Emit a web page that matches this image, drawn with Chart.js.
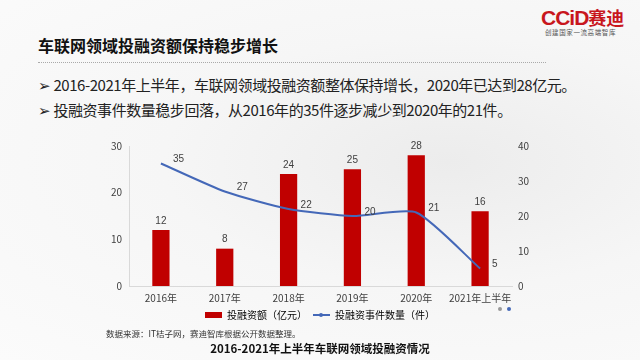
<!DOCTYPE html>
<html>
<head>
<meta charset="utf-8">
<script src="https://cdn.jsdelivr.net/npm/chart.js@4"></script>
<style>
    html, body { margin: 0; padding: 0; }
    body {
        width: 640px; height: 360px; overflow: hidden; position: relative;
        font-family: "Noto Sans CJK SC", sans-serif;
        background: radial-gradient(ellipse at 70% 45%, #ececec 0%, #f6f6f6 45%, #fbfbfb 100%);
    }
    .wm { position: absolute; color: rgba(0,0,0,0.025); font: bold 34px "DejaVu Sans"; transform: rotate(-60deg); letter-spacing: 4px; }
    #logo { position: absolute; left: 541px; top: 4px; color: #c8161d; font: bold 21px "Liberation Sans", sans-serif; letter-spacing: -1px; }
    #logo span { font-family: "Noto Sans CJK SC"; font-size: 18px; color: #c8161d; letter-spacing: 0; }
    #logoSub { position: absolute; left: 545px; top: 27px; font-size: 6.5px; color: #555; letter-spacing: 0.6px; }
    #title { position: absolute; left: 38px; top: 33px; font-size: 16px; font-weight: bold; color: #111; }
    #rule { position: absolute; left: 38px; top: 62px; width: 508px; border-top: 1px dotted #aaa; }
    .bullet { position: absolute; left: 38px; font-size: 15px; color: #222; letter-spacing: -0.45px; }
    #b1 { top: 74px; }
    #b2 { top: 99px; }
    #source { position: absolute; left: 106px; top: 327px; font-size: 8.5px; color: #333; }
    #caption { position: absolute; left: 0; width: 640px; top: 340px; text-align: center; font-size: 11.5px; font-weight: bold; color: #111; }
    #wrap { position: absolute; left: 0; top: 0; width: 640px; height: 360px; }
    .dot { position: absolute; width: 4px; height: 4px; border-radius: 2px; }
</style>
</head>
<body>
<div class="wm" style="left:150px;top:40px;">CCID</div>
<div class="wm" style="left:-20px;top:160px;">CCID</div>
<div class="wm" style="left:250px;top:130px;">CCID</div>
<div class="wm" style="left:520px;top:60px;">CCID</div>
<div class="wm" style="left:420px;top:230px;">CCID</div>
<div id="logo">CCiD<span>赛迪</span></div>
<div id="logoSub">创建国家一流高端智库</div>
<div id="title">车联网领域投融资额保持稳步增长</div>
<div id="rule"></div>
<div class="bullet" id="b1">➢ 2016-2021年上半年，车联网领域投融资额整体保持增长，2020年已达到28亿元。</div>
<div class="bullet" id="b2">➢ 投融资事件数量稳步回落，从2016年的35件逐步减少到2020年的21件。</div>
<div class="dot" style="left:287px;top:223px;background:#999;"></div>
<div class="dot" style="left:293px;top:223px;background:#4468b8;"></div>
<div class="dot" style="left:498px;top:307px;background:#999;"></div>
<div class="dot" style="left:507px;top:307px;background:#4468b8;"></div>
<div id="wrap"><canvas id="chart" width="640" height="360"></canvas></div>
<div id="source">数据来源：IT桔子网，赛迪智库根据公开数据整理。</div>
<div id="caption">2016-2021年上半年车联网领域投融资情况</div>

<script>
const years = ['2016年', '2017年', '2018年', '2019年', '2020年', '2021年上半年'];
const amounts = [12, 8, 24, 25, 28, 16];     // 投融资额（亿元）
const events = [35, 27, 22, 20, 21, 5];      // 投融资事件数量（件）
const leftTicks = [0, 10, 20, 30];
const rightTicks = [0, 10, 20, 30, 40];

const barColor = '#c00000';
const lineColor = '#4468b8';
const labelFont = { family: 'Noto Sans CJK SC', size: 10 };

// value labels: bars centered above, line to the right of each point
const valueLabels = {
    id: 'valueLabels',
    afterDatasetsDraw(chart) {
        const ctx = chart.ctx;
        ctx.save();
        ctx.font = '10px "Liberation Sans"';
        ctx.fillStyle = '#404040';
        ctx.textBaseline = 'middle';
        chart.getDatasetMeta(0).data.forEach((bar, i) => {
            ctx.textAlign = 'center';
            ctx.fillText(amounts[i], bar.x, bar.y - 9);
        });
        chart.getDatasetMeta(1).data.forEach((pt, i) => {
            ctx.textAlign = 'left';
            ctx.fillText(events[i], pt.x + 12, pt.y - 4);
        });
        // dot on the line legend marker
        const box = chart.legend.legendHitBoxes[1];
        if (box) {
            ctx.fillStyle = lineColor;
            ctx.beginPath();
            ctx.arc(box.left + 8, box.top + box.height / 2, 2, 0, Math.PI * 2);
            ctx.fill();
        }
        ctx.restore();
    }
};

const ctx = document.getElementById('chart').getContext('2d');
new Chart(ctx, {
    type: 'bar',
    data: {
        labels: years,
        datasets: [{
            label: '投融资额（亿元）',
            data: amounts,
            backgroundColor: barColor,
            barPercentage: 0.27,
            categoryPercentage: 1,
            yAxisID: 'y',
            order: 2
        }, {
            type: 'line',
            label: '投融资事件数量（件）',
            data: events,
            borderColor: lineColor,
            backgroundColor: lineColor,
            borderWidth: 2,
            pointRadius: 0,
            tension: 0.2,
            fill: false,
            yAxisID: 'y1',
            order: 1
        }]
    },
    options: {
        responsive: false,
        animation: false,
        layout: {
            padding: { top: 146, left: 0, right: 0, bottom: 30 }
        },
        plugins: {
            tooltip: { enabled: false },
            legend: {
                position: 'bottom',
                labels: {
                    usePointStyle: true,
                    pointStyleWidth: 17,
                    boxHeight: 6,
                    padding: 6,
                    color: '#595959',
                    font: labelFont,
                    generateLabels(chart) {
                        return chart.data.datasets.map((ds, i) => ({
                            text: ds.label,
                            fillStyle: i === 0 ? barColor : lineColor,
                            strokeStyle: i === 0 ? barColor : lineColor,
                            lineWidth: i === 0 ? 0 : 2,
                            pointStyle: i === 0 ? 'rect' : 'line',
                            datasetIndex: i
                        }));
                    }
                }
            }
        },
        scales: {
            x: {
                grid: { display: false, drawTicks: false },
                border: { display: true, color: '#d9d9d9' },
                ticks: { color: '#404040', font: labelFont, padding: 6, maxRotation: 0, autoSkip: false },
                afterFit(scale) { scale.height = 18; }
            },
            y: {
                position: 'left',
                min: 0, max: 30,
                afterBuildTicks(scale) { scale.ticks = leftTicks.map(v => ({ value: v })); },
                grid: { display: false, drawTicks: false },
                border: { display: true, color: '#d9d9d9' },
                ticks: { color: '#404040', font: labelFont, padding: 7 },
                afterFit(scale) { scale.width = 129; }
            },
            y1: {
                position: 'right',
                min: 0, max: 40,
                afterBuildTicks(scale) { scale.ticks = rightTicks.map(v => ({ value: v })); },
                grid: { display: false, drawTicks: false },
                border: { display: false },
                ticks: { color: '#404040', font: labelFont, padding: 6 },
                afterFit(scale) { scale.width = 128; }
            }
        }
    },
    plugins: [valueLabels]
});
</script>
</body>
</html>
